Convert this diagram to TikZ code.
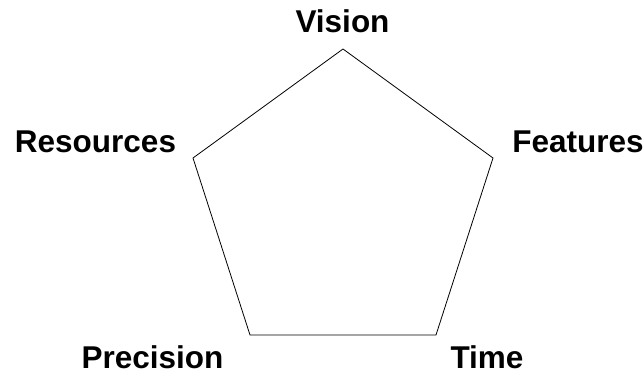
\documentclass[tikz,border=0pt]{standalone}
\usepackage{fontspec}
\setmainfont{Liberation Sans}
\begin{document}
\begin{tikzpicture}[x=1pt,y=1pt,
  lbl/.style={font=\bfseries\fontsize{31.5}{36}\selectfont, anchor=base, inner sep=0pt},
  edge/.style={draw=black, line width=0.8pt}]
\useasboundingbox (0,0) rectangle (643,375);
% pentagon vertices (y flipped: 375 - y)
\coordinate (pv) at (343,326);
\coordinate (pf) at (493,217);
\coordinate (pt) at (436,40);
\coordinate (pp) at (250,40);
\coordinate (pr) at (193,217);
\draw[edge, line join=miter] (pv) -- (pf) -- (pt) -- (pp) -- (pr) -- cycle;
% labels
\node[lbl] (vision) at (342.5,342) {Vision};
\node[lbl] (features) at (578,222) {Features};
\node[lbl] (resources) at (95.5,222) {Resources};
\node[lbl] (precision) at (152.5,6) {Precision};
\node[lbl] (time) at (487,6) {Time};
\end{tikzpicture}
\end{document}
